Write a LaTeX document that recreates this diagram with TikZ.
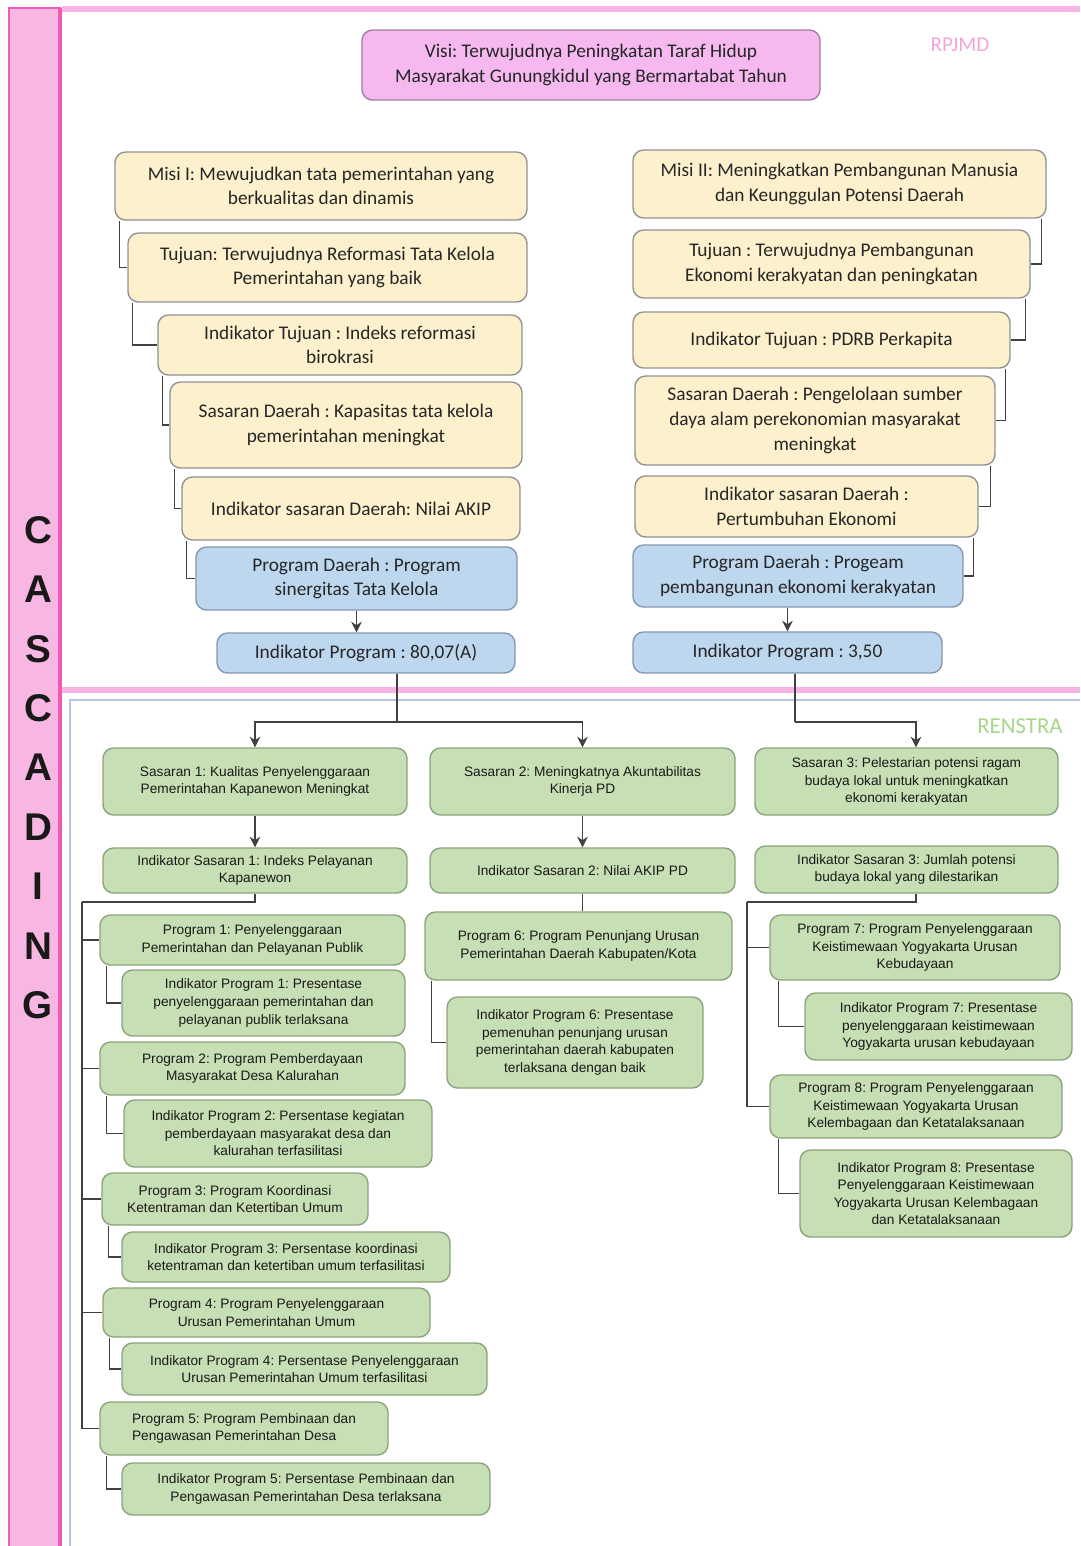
\documentclass[tikz,border=0pt]{standalone}
\usepackage{fontspec}
\setmainfont{Carlito}
\newfontfamily\arialfont{Liberation Sans}
\usetikzlibrary{arrows.meta}
\frenchspacing

\definecolor{creamfill}{HTML}{FDF0CC}
\definecolor{creamdraw}{HTML}{929292}
\definecolor{bluefill}{HTML}{BDD7EE}
\definecolor{bluedraw}{HTML}{8497B0}
\definecolor{greenfill}{HTML}{C7DFB4}
\definecolor{greendraw}{HTML}{8CA37D}
\definecolor{visifill}{HTML}{F5B9EF}
\definecolor{visidraw}{HTML}{A07FA0}
\definecolor{barpink}{HTML}{F8B7E3}
\definecolor{barmag}{HTML}{EE5AB5}
\definecolor{framepink}{HTML}{F8B4E4}
\definecolor{frameblue}{HTML}{B9C6E6}
\definecolor{rpjmdpink}{HTML}{F4A6D7}
\definecolor{renstragreen}{HTML}{A6D78A}

\begin{document}
\begin{tikzpicture}[x=0.02cm, y=-0.02cm, >={Stealth[length=6pt,width=6pt]},
	wh/.style 2 args={minimum width=#1*0.02cm, minimum height=#2*0.02cm},
	line/.style={draw=black!75, line width=0.6pt},
	topbox/.style={rounded corners=6pt, line width=0.8pt, align=center, inner sep=2pt,
		text=black!85, font=\fontsize{11}{14}\selectfont},
	visibox/.style={topbox, fill=visifill, draw=visidraw},
	misibox/.style={topbox, fill=creamfill, draw=creamdraw},
	progbox/.style={topbox, fill=bluefill, draw=bluedraw},
	greenbox/.style={rounded corners=6pt, line width=0.8pt, align=center, inner sep=2pt,
		fill=greenfill, draw=greendraw, text=black!90, font=\arialfont\fontsize{7.8}{10}\selectfont},
	letter/.style={font=\arialfont\bfseries\fontsize{22}{22}\selectfont, text=black!90}]
	
	\useasboundingbox (0,0) rectangle (1080,1546);
	\fill[white] (0,0) rectangle (1080,1546);
	
	% Frame: side bar and the two areas
	\fill[barpink] (8,8) rectangle (62,1546);
	\draw[barmag, line width=1.5pt] (9,1546) -- (9,8) -- (61,8);
	\draw[barmag, line width=2pt] (60,8) -- (60,1546);
	\draw[framepink, line width=3pt] (62,9) -- (1080,9);
	\draw[framepink, line width=3pt] (62,690) -- (1080,690);
	\draw[frameblue, line width=1.5pt] (1080,700) -- (70,700) -- (70,1546);
	
	\foreach \ch [count=\i from 0] in {C,A,S,C,A,D,I,N,G}
		\node[letter] (ch\i) at (38,530+59.4*\i) {\ch};
	
	\node[text=rpjmdpink, font=\fontsize{12}{12}\selectfont] (rpjmd) at (960,45) {RPJMD};
	\node[text=renstragreen, font=\fontsize{13}{13}\selectfont] (renstra) at (1020,726) {RENSTRA};
	
	% RPJMD
	\node[visibox, wh={458}{70}] (visi) at (591,65)
		{Visi: Terwujudnya Peningkatan Taraf Hidup\\Masyarakat Gunungkidul yang Bermartabat Tahun};
	
	\node[misibox, wh={412}{68}] (misi1) at (321,186)
		{Misi I: Mewujudkan tata pemerintahan yang\\berkualitas dan dinamis};
	\node[misibox, wh={399}{69}] (tujuan1) at (327.5,267.5)
		{Tujuan: Terwujudnya Reformasi Tata Kelola\\Pemerintahan yang baik};
	\node[misibox, wh={364}{60}] (indtuj1) at (340,345)
		{Indikator Tujuan : Indeks reformasi\\birokrasi};
	\node[misibox, wh={352}{86}] (sasd1) at (346,425)
		{Sasaran Daerah : Kapasitas tata kelola\\pemerintahan meningkat};
	\node[misibox, wh={338}{63}] (indsasd1) at (351,508.5)
		{Indikator sasaran Daerah: Nilai AKIP};
	\node[progbox, wh={321}{63}] (progd1) at (356.5,578.5)
		{Program Daerah : Program\\sinergitas Tata Kelola};
	\node[progbox, wh={298}{40}] (indp1) at (366,653)
		{Indikator Program : 80,07(A)};
	
	\node[misibox, wh={413}{68}] (misi2) at (839.5,184)
		{Misi II: Meningkatkan Pembangunan Manusia\\dan Keunggulan Potensi Daerah};
	\node[misibox, wh={397}{68}] (tujuan2) at (831.5,264)
		{Tujuan : Terwujudnya Pembangunan\\Ekonomi kerakyatan dan peningkatan};
	\node[misibox, wh={377}{56}] (indtuj2) at (821.5,340)
		{Indikator Tujuan : PDRB Perkapita};
	\node[misibox, wh={360}{89}] (sasd2) at (815,420.5)
		{Sasaran Daerah : Pengelolaan sumber\\daya alam perekonomian masyarakat\\meningkat};
	\node[misibox, wh={343}{61}] (indsasd2) at (806.5,506.5)
		{Indikator sasaran Daerah :\\Pertumbuhan Ekonomi};
	\node[progbox, wh={330}{62}] (progd2) at (798,576)
		{Program Daerah : Progeam\\pembangunan ekonomi kerakyatan};
	\node[progbox, wh={309}{41}] (indp2) at (787.5,652.5)
		{Indikator Program : 3,50};
	
	% RPJMD connectors
	\draw[line] ([xshift=3pt]misi1.south west) |- (tujuan1.west);
	\draw[line] ([xshift=3pt]tujuan1.south west) |- (indtuj1.west);
	\draw[line] ([xshift=3pt]indtuj1.south west) |- (sasd1.west);
	\draw[line] ([xshift=3pt]sasd1.south west) |- (indsasd1.west);
	\draw[line] ([xshift=3pt]indsasd1.south west) |- (progd1.west);
	\draw[line, ->] (progd1.south) -- (progd1.south |- indp1.north);
	
	\draw[line] ([xshift=-3pt]misi2.south east) |- (tujuan2.east);
	\draw[line] ([xshift=-3pt]tujuan2.south east) |- (indtuj2.east);
	\draw[line] ([xshift=-3pt]indtuj2.south east) |- (sasd2.east);
	\draw[line] ([xshift=-3pt]sasd2.south east) |- (indsasd2.east);
	\draw[line] ([xshift=-3pt]indsasd2.south east) |- (progd2.east);
	\draw[line, ->] (indp2.north |- progd2.south) -- (indp2.north);
	
	% RENSTRA
	\node[greenbox, wh={304}{67}] (sas1) at (255,781.5)
		{Sasaran 1: Kualitas Penyelenggaraan\\Pemerintahan Kapanewon Meningkat};
	\node[greenbox, wh={305}{67}] (sas2) at (582.5,781.5)
		{Sasaran 2: Meningkatnya Akuntabilitas\\Kinerja PD};
	\node[greenbox, wh={303}{67}] (sas3) at (906.5,781.5)
		{Sasaran 3: Pelestarian potensi ragam\\budaya lokal untuk meningkatkan\\ekonomi kerakyatan};
	
	\node[greenbox, wh={304}{45}] (isas1) at (255,870.5)
		{Indikator Sasaran 1: Indeks Pelayanan\\Kapanewon};
	\node[greenbox, wh={305}{45}] (isas2) at (582.5,870.5)
		{Indikator Sasaran 2: Nilai AKIP PD};
	\node[greenbox, wh={303}{47}] (isas3) at (906.5,869.5)
		{Indikator Sasaran 3: Jumlah potensi\\budaya lokal yang dilestarikan};
	
	\node[greenbox, wh={305}{50}] (prog1) at (252.5,940)
		{Program 1: Penyelenggaraan\\Pemerintahan dan Pelayanan Publik};
	\node[greenbox, wh={283}{66}] (iprog1) at (263.5,1003)
		{Indikator Program 1: Presentase\\penyelenggaraan pemerintahan dan\\pelayanan publik terlaksana};
	\node[greenbox, wh={305}{53}] (prog2) at (252.5,1068.5)
		{Program 2: Program Pemberdayaan\\Masyarakat Desa Kalurahan};
	\node[greenbox, wh={308}{67}] (iprog2) at (278,1133.5)
		{Indikator Program 2: Persentase kegiatan\\pemberdayaan masyarakat desa dan\\kalurahan terfasilitasi};
	\node[greenbox, wh={266}{52}] (prog3) at (235,1199)
		{Program 3: Program Koordinasi\\Ketentraman dan Ketertiban Umum};
	\node[greenbox, wh={328}{50}] (iprog3) at (286,1257)
		{Indikator Program 3: Persentase koordinasi\\ketentraman dan ketertiban umum terfasilitasi};
	\node[greenbox, wh={327}{49}] (prog4) at (266.5,1312.5)
		{Program 4: Program Penyelenggaraan\\Urusan Pemerintahan Umum};
	\node[greenbox, wh={365}{52}] (iprog4) at (304.5,1369)
		{Indikator Program 4: Persentase Penyelenggaraan\\Urusan Pemerintahan Umum terfasilitasi};
	\node[greenbox, wh={288}{53}, align=left] (prog5) at (244,1428.5)
		{Program 5: Program Pembinaan dan\\Pengawasan Pemerintahan Desa};
	\node[greenbox, wh={368}{52}] (iprog5) at (306,1489)
		{Indikator Program 5: Persentase Pembinaan dan\\Pengawasan Pemerintahan Desa terlaksana};
	
	\node[greenbox, wh={307}{68}] (prog6) at (578.5,946)
		{Program 6: Program Penunjang Urusan\\Pemerintahan Daerah Kabupaten/Kota};
	\node[greenbox, wh={256}{91}] (iprog6) at (575,1042.5)
		{Indikator Program 6: Presentase\\pemenuhan penunjang urusan\\pemerintahan daerah kabupaten\\terlaksana dengan baik};
	
	\node[greenbox, wh={290}{65}] (prog7) at (915,947.5)
		{Program 7: Program Penyelenggaraan\\Keistimewaan Yogyakarta Urusan\\Kebudayaan};
	\node[greenbox, wh={267}{67}] (iprog7) at (938.5,1026.5)
		{Indikator Program 7: Presentase\\penyelenggaraan keistimewaan\\Yogyakarta urusan kebudayaan};
	\node[greenbox, wh={292}{63}] (prog8) at (916,1106.5)
		{Program 8: Program Penyelenggaraan\\Keistimewaan Yogyakarta Urusan\\Kelembagaan dan Ketatalaksanaan};
	\node[greenbox, wh={272}{87}] (iprog8) at (936,1193.5)
		{Indikator Program 8: Presentase\\Penyelenggaraan Keistimewaan\\Yogyakarta Urusan Kelembagaan\\dan Ketatalaksanaan};
	
	% RPJMD to RENSTRA
	\coordinate (splitL) at (397,722);
	\coordinate (splitR) at (795,722);
	\draw[line] (splitL |- indp1.south) -- (splitL);
	\draw[line, ->] (splitL) -| (sas1.north);
	\draw[line, ->] (splitL) -| (sas2.north);
	\draw[line] (splitR |- indp2.south) -- (splitR);
	\draw[line, ->] (splitR) -| ([xshift=0.19cm]sas3.north);
	
	\draw[line, ->] (sas1.south) -- (isas1.north);
	\draw[line, ->] (sas2.south) -- (isas2.north);
	
	% Program trees
	\coordinate (trunkL) at (82,902);
	\draw[line] (isas1.south) |- (trunkL);
	\foreach \n in {1,...,5}
		\draw[line] (trunkL) |- (prog\n.west);
	\foreach \n in {1,...,5}
		\draw[line] ([xshift=4pt]prog\n.south west) |- (iprog\n.west);
	
	\draw[line] (isas2.south) -- (isas2.south |- prog6.north);
	\draw[line] ([xshift=4pt]prog6.south west) |- (iprog6.west);
	
	\coordinate (trunkR) at (747,902);
	\draw[line] ([xshift=0.19cm]isas3.south) |- (trunkR);
	\draw[line] (trunkR) |- (prog7.west);
	\draw[line] (trunkR) |- (prog8.west);
	\draw[line] ([xshift=5pt]prog7.south west) |- (iprog7.west);
	\draw[line] ([xshift=5pt]prog8.south west) |- (iprog8.west);
\end{tikzpicture}
\end{document}
